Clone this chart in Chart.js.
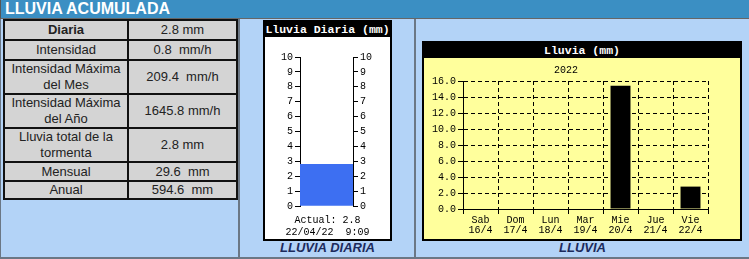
<!DOCTYPE html>
<html>
<head>
<meta charset="utf-8">
<script src="https://cdn.jsdelivr.net/npm/chart.js@4.4.0/dist/chart.umd.min.js"></script>
<style>
  body { margin: 0; width: 749px; height: 259px; overflow: hidden; position: relative;
         background: #b3d3f7; font-family: Arial, "Liberation Sans", sans-serif; }
  .abs { position: absolute; box-sizing: border-box; }
  #header { left: 0; top: 0; width: 749px; height: 19px; background: #3b8fc3;
            border-left: 1px solid #555; border-bottom: 1px solid #666;
            color: #fff; font-weight: bold; font-size: 16px; line-height: 18px; padding-left: 4px; }
  .vsep { top: 19px; width: 2px; height: 240px; background: #6b7785; }
  #bottomline { left: 0; top: 257px; width: 749px; height: 2px; background: #6b7785; }
  #leftline { left: 0; top: 19px; width: 1px; height: 240px; background: #6b7785; }
  #stats { left: 3px; top: 19px; width: 235px; border-collapse: collapse; border: 2px solid #111;
           font-size: 13px; color: #222; }
  #stats td { background: #d4d4d4; border: 2px solid #111; text-align: center; padding: 0 2px;
              white-space: pre-wrap; line-height: 16px; }
  #stats td.k { width: 118px; }
  #stats tr.first td.k { font-weight: bold; }
  .box { border: 2px solid #000; }
  .ttl { background: #000; color: #fff; font-family: "Liberation Mono", monospace; font-weight: bold;
         font-size: 11.5px; height: 15px; line-height: 15px; text-align: center; white-space: pre; }
  .cap { color: #1c2a5c; font-weight: bold; font-style: italic; font-size: 13px; text-align: center; }
</style>
</head>
<body>
<div id="header" class="abs">LLUVIA ACUMULADA</div>
<div id="leftline" class="abs"></div>
<div class="abs vsep" style="left:238px"></div>
<div class="abs vsep" style="left:414px"></div>
<div id="bottomline" class="abs"></div>

<table id="stats" class="abs"></table>

<div class="abs box" style="left:263px; top:20px; width:129px; height:221px; background:#fff;">
  <div class="ttl">Lluvia Diaria (mm)</div>
</div>
<canvas id="daily" class="abs" width="125" height="203" style="left:265px; top:36px;"></canvas>
<div class="abs cap" style="left:240px; top:240px; width:175px;">LLUVIA DIARIA</div>

<div class="abs box" style="left:422px; top:41px; width:320px; height:200px; background:#ffff9c;">
  <div class="ttl">Lluvia (mm)</div>
</div>
<canvas id="week" class="abs" width="316" height="182" style="left:424px; top:57px;"></canvas>
<div class="abs cap" style="left:416px; top:240px; width:333px;">LLUVIA</div>

<script>
// accumulated rain table
const statLabels = ["Diaria", "Intensidad", "Intensidad Máxima\ndel Mes", "Intensidad Máxima\ndel Año",
                    "Lluvia total de la\ntormenta", "Mensual", "Anual"];
const statValues = ["2.8 mm", "0.8  mm/h", "209.4  mm/h", "1645.8 mm/h", "2.8 mm", "29.6  mm", "594.6  mm"];
const statHeights = [18, 18, 32, 32, 32, 17, 16];

// daily gauge
const dailyLabels = ["Diaria"];
const dailyValues = [2.8];
const dailyMax = 10;
const dailyNote = ["Actual: 2.8", "22/04/22  9:09"];

// last 7 days
const dayLabels = [["Sab", "16/4"], ["Dom", "17/4"], ["Lun", "18/4"], ["Mar", "19/4"],
                   ["Mie", "20/4"], ["Jue", "21/4"], ["Vie", "22/4"]];
const rainValues = [0, 0, 0, 0, 15.4, 0, 2.8];
const rainMax = 16;
const rainYear = "2022";

const tbl = document.getElementById("stats");
statLabels.forEach((lab, i) => {
  const tr = document.createElement("tr");
  if (i === 0) tr.className = "first";
  const a = document.createElement("td");
  a.className = "k"; a.textContent = lab; a.style.height = statHeights[i] + "px";
  const b = document.createElement("td");
  b.textContent = statValues[i];
  tr.appendChild(a); tr.appendChild(b);
  tbl.appendChild(tr);
});

Chart.defaults.font.family = "'Liberation Mono', 'DejaVu Sans Mono', monospace";
Chart.defaults.font.size = 10;
Chart.defaults.color = "#000";

const gaugeAxis = (pos, w) => ({
  position: pos, min: 0, max: dailyMax,
  ticks: { stepSize: 1, padding: 2, autoSkip: false },
  grid: { drawOnChartArea: false, tickLength: 5, color: "#000" },
  border: { color: "#000" },
  afterFit: (s) => { s.width = w; }
});

new Chart(document.getElementById("daily"), {
  type: "bar",
  data: {
    labels: dailyLabels,
    datasets: [{ data: dailyValues, backgroundColor: "#3d6ff2",
                 barPercentage: 1, categoryPercentage: 1 }]
  },
  options: {
    responsive: false, animation: false,
    layout: { padding: { top: 21 } },
    plugins: {
      legend: { display: false }, tooltip: { enabled: false },
      title: { display: true, position: "bottom", text: dailyNote,
               font: { size: 10, weight: "normal", lineHeight: 1.2 }, padding: { top: 8, bottom: 1 } }
    },
    scales: {
      x: { display: false },
      y: gaugeAxis("left", 35),
      y2: gaugeAxis("right", 37)
    }
  }
});

new Chart(document.getElementById("week"), {
  type: "bar",
  data: {
    labels: dayLabels,
    datasets: [{ data: rainValues, backgroundColor: "#000", barPercentage: 0.57, categoryPercentage: 1 }]
  },
  options: {
    responsive: false, animation: false,
    layout: { padding: { right: 32, bottom: 2 } },
    plugins: {
      legend: { display: false }, tooltip: { enabled: false },
      title: { display: true, text: rainYear, font: { size: 10, weight: "normal" },
               padding: { top: 7, bottom: 5 } }
    },
    scales: {
      x: {
        offset: true,
        ticks: { padding: 1, maxRotation: 0, autoSkip: false, font: { lineHeight: 1.05 } },
        grid: { offset: true, color: "#000", tickLength: 5 },
        border: { color: "#000", dash: [4, 3] }
      },
      y: {
        min: 0, max: rainMax,
        ticks: { stepSize: 2, padding: 2, autoSkip: false, callback: (v) => v.toFixed(1) },
        grid: { color: "#000", tickLength: 5 },
        border: { color: "#000", dash: [4, 3] },
        afterFit: (s) => { s.width = 39; }
      }
    }
  }
});
</script>
</body>
</html>
